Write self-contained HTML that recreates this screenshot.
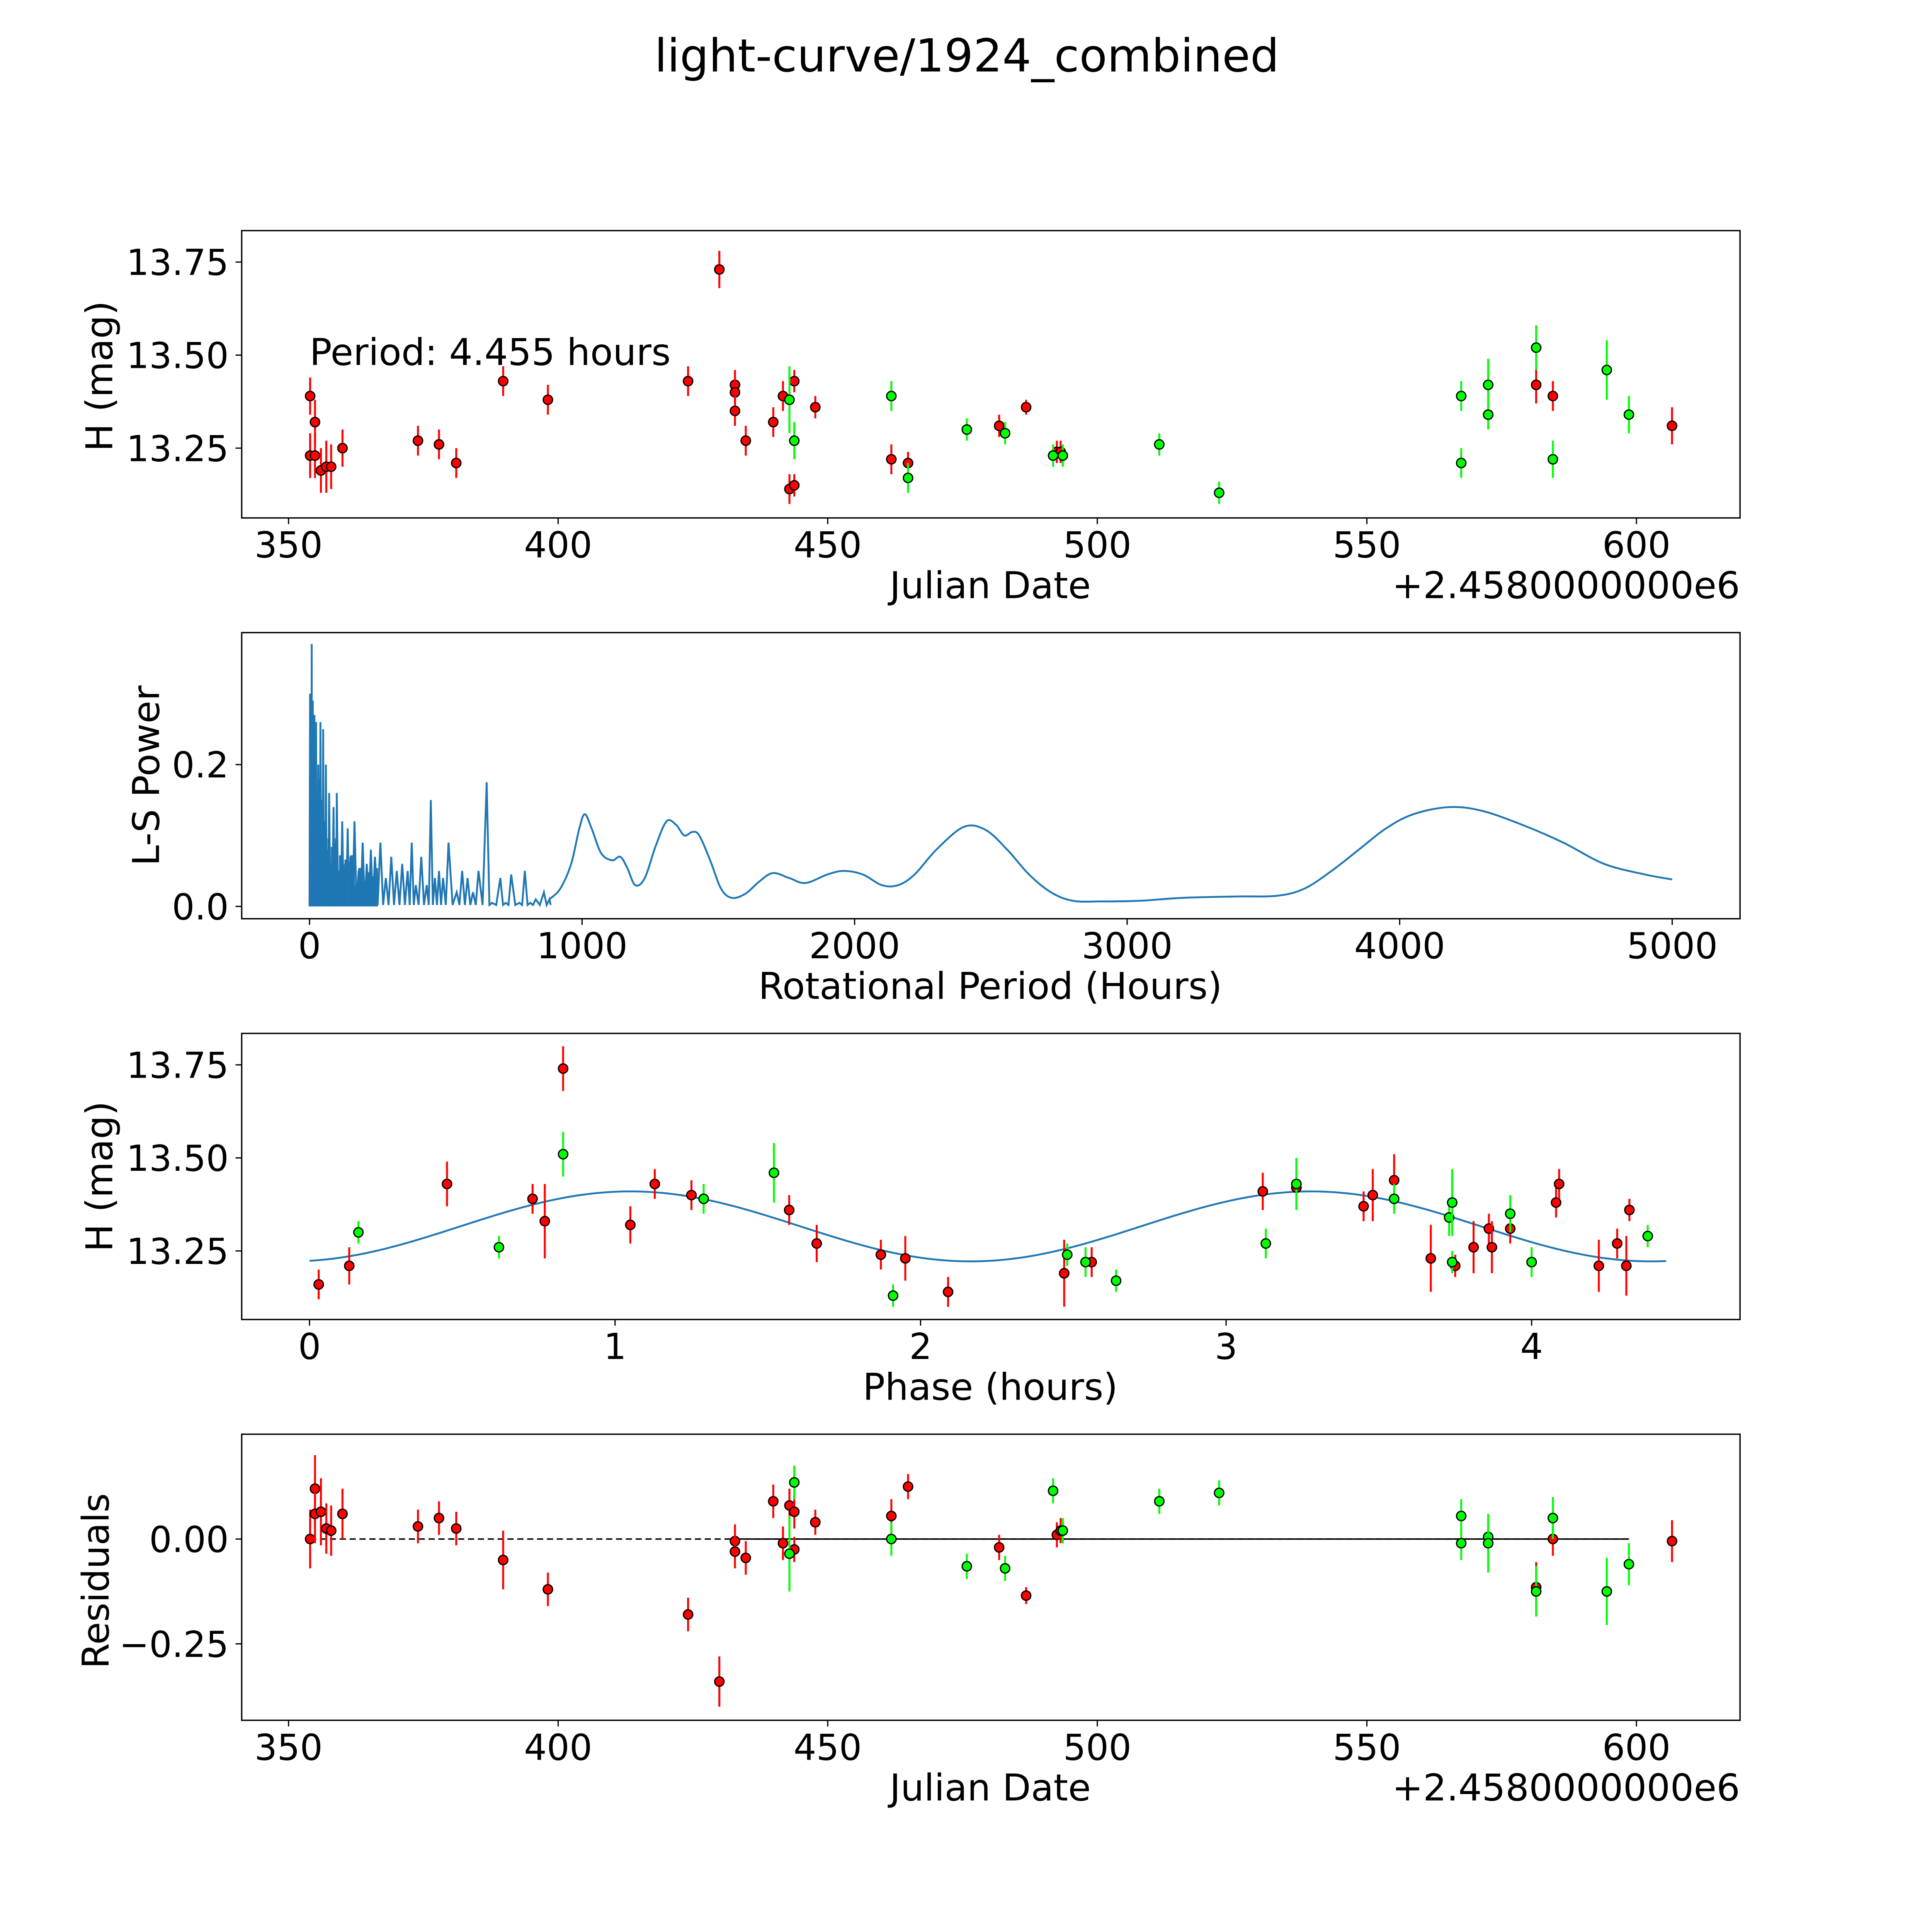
<!DOCTYPE html>
<html><head><meta charset="utf-8"><style>
html,body{margin:0;padding:0;background:#fff;overflow:hidden}
svg{display:block}
text{font-family:"DejaVu Sans","Liberation Sans",sans-serif;fill:#000}
</style></head><body>
<svg id="fig" xmlns="http://www.w3.org/2000/svg" width="5400" height="5400" viewBox="0 0 1692 1692">
<rect width="1692" height="1692" fill="#fff"/>
<text x="784" y="58" font-size="37" text-anchor="middle">light-curve/1924_combined</text>
</svg>
<script>
// ---------- data ----------
const lcDatesRed=[354.0,354.0,354.9,354.9,356.0,357.0,357.9,360.0,374.0,377.9,381.1,389.8,398.1,424.1,429.9,432.8,432.8,432.8,434.8,439.9,441.7,442.9,443.8,443.8,447.7,461.8,464.9,481.8,486.8,492.5,493.2,581.4,584.5,606.6];
const lcMagRed=[13.39,13.23,13.23,13.32,13.19,13.20,13.20,13.25,13.27,13.26,13.21,13.43,13.38,13.43,13.73,13.42,13.40,13.35,13.27,13.32,13.39,13.14,13.15,13.43,13.36,13.22,13.21,13.31,13.36,13.24,13.24,13.42,13.39,13.31];
const lcErrRed=[0.05,0.06,0.06,0.06,0.06,0.07,0.06,0.05,0.04,0.04,0.04,0.04,0.04,0.04,0.05,0.04,0.04,0.04,0.04,0.04,0.04,0.04,0.03,0.03,0.03,0.04,0.03,0.03,0.02,0.03,0.03,0.05,0.04,0.05];
const lcDatesGreen=[442.9,443.8,461.8,464.9,475.8,482.9,491.8,493.6,511.5,522.6,567.5,567.5,572.5,572.5,581.4,584.5,594.5,598.6];
const lcMagGreen=[13.38,13.27,13.39,13.17,13.30,13.29,13.23,13.23,13.26,13.13,13.39,13.21,13.42,13.34,13.52,13.22,13.46,13.34];
const lcErrGreen=[0.09,0.05,0.04,0.04,0.03,0.03,0.03,0.03,0.03,0.03,0.04,0.04,0.07,0.04,0.06,0.05,0.08,0.05];

const phRed=[0.03,0.13,0.45,0.73,0.77,0.83,1.05,1.13,1.25,1.57,1.66,1.87,1.95,2.09,2.47,2.56,3.12,3.23,3.45,3.48,3.55,3.67,3.75,3.81,3.86,3.87,3.93,4.08,4.09,4.22,4.28,4.31,4.32];
const phMagRed=[13.16,13.21,13.43,13.39,13.33,13.74,13.32,13.43,13.40,13.36,13.27,13.24,13.23,13.14,13.19,13.22,13.41,13.42,13.37,13.40,13.44,13.23,13.21,13.26,13.31,13.26,13.31,13.38,13.43,13.21,13.27,13.21,13.36];
const phErrRed=[0.04,0.05,0.06,0.04,0.10,0.06,0.05,0.04,0.04,0.04,0.05,0.04,0.06,0.04,0.09,0.04,0.05,0.04,0.04,0.07,0.07,0.09,0.03,0.07,0.04,0.07,0.04,0.04,0.04,0.07,0.04,0.08,0.03];
const phGreen=[0.16,0.62,0.83,1.29,1.52,1.91,2.48,2.54,2.64,3.13,3.23,3.55,3.73,3.74,3.74,3.93,4.00,4.38];
const phMagGreen=[13.30,13.26,13.51,13.39,13.46,13.13,13.24,13.22,13.17,13.27,13.43,13.39,13.34,13.38,13.22,13.35,13.22,13.29];
const phErrGreen=[0.03,0.03,0.06,0.04,0.08,0.03,0.03,0.04,0.03,0.04,0.07,0.04,0.05,0.09,0.03,0.05,0.04,0.03];
const fitMean=13.316, fitAmp=0.094, fitPhase0=1.05, fitPeriod=2.2275;

const resDatesRed=[354.0,354.9,354.9,356.0,357.0,357.9,360.0,374.0,377.9,381.1,389.8,398.1,424.1,429.9,432.8,432.8,434.8,439.9,441.7,442.9,443.8,443.8,447.7,461.8,464.9,481.8,486.8,492.5,493.2,581.4,584.5,606.6];
const resRed=[0.00,0.12,0.06,0.065,0.025,0.02,0.06,0.03,0.05,0.025,-0.05,-0.12,-0.18,-0.34,-0.005,-0.03,-0.045,0.09,-0.01,0.08,0.065,-0.025,0.04,0.055,0.125,-0.02,-0.135,0.01,0.02,-0.115,0.00,-0.005];
const resErrRed=[0.07,0.08,0.07,0.08,0.06,0.06,0.06,0.04,0.04,0.04,0.07,0.04,0.04,0.06,0.04,0.04,0.04,0.04,0.04,0.04,0.04,0.03,0.03,0.04,0.03,0.03,0.02,0.03,0.03,0.06,0.04,0.05];
const resDatesGreen=[442.9,443.8,461.8,475.8,482.9,491.8,493.6,511.5,522.6,567.5,567.5,572.5,572.5,581.4,584.5,594.5,598.6];
const resGreen=[-0.035,0.135,0.0,-0.065,-0.07,0.115,0.02,0.09,0.11,0.055,-0.01,0.005,-0.01,-0.125,0.05,-0.125,-0.06];
const resErrGreen=[0.09,0.04,0.04,0.03,0.03,0.03,0.03,0.03,0.03,0.04,0.04,0.05,0.07,0.06,0.05,0.08,0.05];

const lsSpikePeriod=[2,5,8,10,12,15,18,20,24,28,32,36,40,45,50,55,60,66,72,80,88,95,100,110,120,130,140,150,165,180,195,210,225,240,260,280,300,320,340,360,375,390,410,430,445,460,475,490,510,540,560,580,600,620,650,670,700,720,740,770,790,810,830,860,880];
const lsSpikePower=[0.30,0.25,0.37,0.28,0.29,0.20,0.27,0.24,0.26,0.16,0.20,0.18,0.26,0.12,0.25,0.10,0.20,0.08,0.16,0.06,0.14,0.09,0.16,0.05,0.12,0.06,0.11,0.07,0.12,0.05,0.09,0.06,0.08,0.07,0.09,0.04,0.07,0.05,0.06,0.05,0.09,0.03,0.07,0.03,0.15,0.04,0.05,0.04,0.09,0.02,0.05,0.04,0.02,0.05,0.175,0.005,0.04,0.005,0.045,0.005,0.05,0.005,0.01,0.02,0.01];
const lsSmoothPeriod=[880,920,960,990,1010,1035,1070,1110,1140,1165,1195,1230,1270,1310,1345,1375,1405,1430,1470,1510,1550,1600,1650,1700,1760,1820,1900,1960,2030,2100,2160,2220,2300,2400,2480,2560,2640,2720,2800,2900,3050,3200,3400,3550,3650,3750,3850,3950,4050,4180,4300,4450,4600,4750,4900,5000];
const lsSmoothPower=[0.01,0.025,0.06,0.11,0.13,0.11,0.075,0.065,0.07,0.055,0.03,0.04,0.085,0.12,0.115,0.10,0.105,0.10,0.065,0.025,0.012,0.018,0.035,0.047,0.04,0.033,0.045,0.05,0.045,0.03,0.03,0.045,0.08,0.112,0.108,0.08,0.045,0.02,0.008,0.007,0.008,0.012,0.014,0.015,0.025,0.05,0.08,0.11,0.13,0.14,0.135,0.115,0.09,0.06,0.045,0.038];

// ---------- drawing ----------
const NS="http://www.w3.org/2000/svg";
const fig=document.getElementById('fig');
function mk(tag,attrs,parent){const e=document.createElementNS(NS,tag);for(const k in attrs)e.setAttribute(k,attrs[k]);(parent||fig).appendChild(e);return e;}
const X0=196,X1=1411;
const sxDate=d=>234+(d-350)*4.372;
function panel(name){const g=mk('g',{});return g;}
function frame(g,y0,y1){mk('rect',{x:X0,y:y0,width:X1-X0,height:y1-y0,fill:'none',stroke:'#000','stroke-width':1.1},g);}
function xtick(g,x,y1,lab){mk('line',{x1:x,x2:x,y1:y1,y2:y1+5,stroke:'#000'},g);const t=mk('text',{x:x,y:y1+32,'font-size':29,'text-anchor':'middle'},g);t.textContent=lab;}
function ytick(g,y,lab){mk('line',{x1:X0-5,x2:X0,y1:y,y2:y,stroke:'#000'},g);const t=mk('text',{x:X0-10.5,y:y+10.5,'font-size':29,'text-anchor':'end'},g);t.textContent=lab;}
function label(g,x,y,txt,rot,name){const t=mk('text',{x:x,y:y,'font-size':30,'text-anchor':'middle',transform:rot?`rotate(-90 ${x} ${y})`:''},g);t.textContent=txt;}
function pts(g,xs,ys,es,sx,sy,col,name){for(let i=0;i<xs.length;i++){const x=sx(xs[i]),y=sy(ys[i]);mk('line',{x1:x,x2:x,y1:sy(ys[i]-es[i]),y2:sy(ys[i]+es[i]),stroke:col,'stroke-width':1.6},g);const c=mk('circle',{cx:x,cy:y,r:3.8,fill:col,stroke:'#000','stroke-width':1},g);}}
const RED='#ff0000',GRN='#00ff00';

// panel 1
{const y0=187,y1=420;const g=panel('light-curve-panel');frame(g,y0,y1);
const sy=m=>363.4-(m-13.25)*301.8;
[350,400,450,500,550,600].forEach(d=>xtick(g,sxDate(d),y1,String(d)));
[13.25,13.50,13.75].forEach(m=>ytick(g,sy(m),m.toFixed(2)));
pts(g,lcDatesRed,lcMagRed,lcErrRed,sxDate,sy,RED,'red-point');
pts(g,lcDatesGreen,lcMagGreen,lcErrGreen,sxDate,sy,GRN,'green-point');
const t=mk('text',{x:251,y:296,'font-size':30},g);t.textContent='Period: 4.455 hours';
label(g,803,485,'Julian Date',false,'x-axis-title');
const o=mk('text',{x:X1,y:485,'font-size':30,'text-anchor':'end'},g);o.textContent='+2.4580000000e6';
label(g,91,305,'H (mag)',true,'y-axis-title');}

// panel 2
{const y0=513,y1=745;const g=panel('periodogram-panel');frame(g,y0,y1);
const sx=p=>251+p*0.221, sy=v=>735-v*575;
[0,1000,2000,3000,4000,5000].forEach(p=>xtick(g,sx(p),y1,String(p)));
[[0,'0.0'],[0.2,'0.2']].forEach(([v,l])=>ytick(g,sy(v),l));
let d='M'+sx(0)+','+sy(0);
for(let i=0;i<lsSpikePeriod.length;i++){d+=' L'+sx(lsSpikePeriod[i])+','+sy(lsSpikePower[i])+' L'+sx(lsSpikePeriod[i]+ (i<lsSpikePeriod.length-1?(lsSpikePeriod[i+1]-lsSpikePeriod[i])/2:5))+','+sy(0.002);}
const l1=mk('path',{d:d,fill:'none',stroke:'#1f77b4','stroke-width':1.5},g);
for(let p=1;p<250;p+=2.5){const k=lsSpikePeriod.findIndex(q=>q>=p);const v=lsSpikePower[Math.max(0,k)]*0.6;mk('line',{x1:sx(p),x2:sx(p),y1:sy(0),y2:sy(v),stroke:'#1f77b4','stroke-width':1.2},g);}
const P=lsSmoothPeriod.map(sx),V=lsSmoothPower.map(sy);
let d2='M'+P[0]+','+V[0];
for(let i=0;i<P.length-1;i++){const p0=[P[Math.max(0,i-1)],V[Math.max(0,i-1)]],p1=[P[i],V[i]],p2=[P[i+1],V[i+1]],p3=[P[Math.min(P.length-1,i+2)],V[Math.min(P.length-1,i+2)]];
const c1=[p1[0]+(p2[0]-p0[0])/6,p1[1]+(p2[1]-p0[1])/6],c2=[p2[0]-(p3[0]-p1[0])/6,p2[1]-(p3[1]-p1[1])/6];
d2+=` C${c1[0]},${c1[1]} ${c2[0]},${c2[1]} ${p2[0]},${p2[1]}`;}
const l2=mk('path',{d:d2,fill:'none',stroke:'#1f77b4','stroke-width':1.5},g);
label(g,803,810,'Rotational Period (Hours)',false,'x-axis-title');
label(g,129,629,'L-S Power',true,'y-axis-title');}

// panel 3
{const y0=838,y1=1070;const g=panel('phase-panel');frame(g,y0,y1);
const sx=p=>251+p*247.75, sy=m=>1014.4-(m-13.25)*301.8;
[0,1,2,3,4].forEach(p=>xtick(g,sx(p),y1,String(p)));
[13.25,13.50,13.75].forEach(m=>ytick(g,sy(m),m.toFixed(2)));
let d='';for(let p=0;p<=4.455;p+=0.02){const m=fitMean+fitAmp*Math.cos(2*Math.PI*(p-fitPhase0)/fitPeriod);d+=(d?' L':'M')+sx(p)+','+sy(m);}
const c=mk('path',{d:d,fill:'none',stroke:'#1f77b4','stroke-width':1.5},g);
pts(g,phRed,phMagRed,phErrRed,sx,sy,RED,'red-point');
pts(g,phGreen,phMagGreen,phErrGreen,sx,sy,GRN,'green-point');
label(g,803,1135,'Phase (hours)',false,'x-axis-title');
label(g,91,954,'H (mag)',true,'y-axis-title');}

// panel 4
{const y0=1163,y1=1395;const g=panel('residuals-panel');frame(g,y0,y1);
const sy=r=>1248-r*340;
[350,400,450,500,550,600].forEach(d=>xtick(g,sxDate(d),y1,String(d)));
[[0,'0.00'],[-0.25,'\u22120.25']].forEach(([v,l])=>ytick(g,sy(v),l));
const z1=mk('line',{x1:sxDate(354.0),x2:sxDate(598.6),y1:sy(0),y2:sy(0),stroke:'#000','stroke-width':1.2,'stroke-dasharray':'5,3'},g);
mk('line',{x1:sxDate(432.8),x2:sxDate(598.6),y1:sy(0),y2:sy(0),stroke:'#000','stroke-width':1.2},g);
pts(g,resDatesRed,resRed,resErrRed,sxDate,sy,RED,'red-point');
pts(g,resDatesGreen,resGreen,resErrGreen,sxDate,sy,GRN,'green-point');
label(g,803,1460,'Julian Date',false,'x-axis-title');
const o=mk('text',{x:X1,y:1460,'font-size':30,'text-anchor':'end'},g);o.textContent='+2.4580000000e6';
label(g,88,1282,'Residuals',true,'y-axis-title');}
</script>
</body></html>
